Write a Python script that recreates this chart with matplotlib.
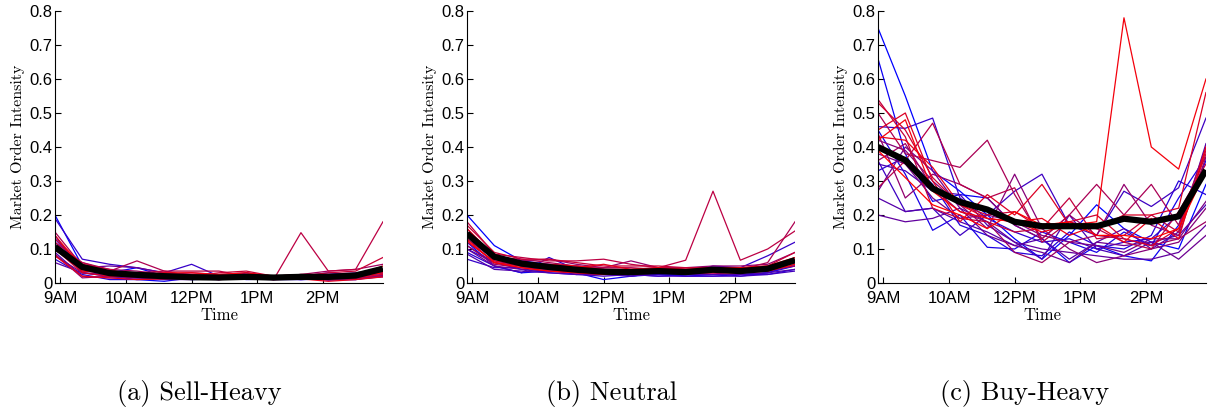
import matplotlib
matplotlib.use("Agg")
import matplotlib.pyplot as plt
import numpy as np

# time index of the 13 half-hour buckets
x = list(range(1, 14))
tick_pos = [1.2, 3.6, 6.0, 8.4, 10.8]
tick_labels = ["9AM", "10AM", "12PM", "1PM", "2PM"]

# individual stocks, ordered from blue to red
sell_heavy = [
    [0.20, 0.05, 0.03, 0.045, 0.02, 0.01, 0.012, 0.02, 0.015, 0.01, 0.012, 0.01, 0.025],
    [0.14, 0.03, 0.02, 0.01, 0.005, 0.015, 0.01, 0.03, 0.015, 0.012, 0.02, 0.015, 0.03],
    [0.13, 0.04, 0.025, 0.015, 0.018, 0.012, 0.02, 0.01, 0.012, 0.015, 0.01, 0.012, 0.02],
    [0.07, 0.025, 0.01, 0.01, 0.015, 0.02, 0.01, 0.02, 0.01, 0.01, 0.015, 0.02, 0.03],
    [0.19, 0.07, 0.055, 0.045, 0.03, 0.055, 0.02, 0.015, 0.01, 0.02, 0.03, 0.025, 0.035],
    [0.10, 0.035, 0.03, 0.02, 0.025, 0.02, 0.015, 0.02, 0.012, 0.02, 0.02, 0.015, 0.025],
    [0.09, 0.02, 0.015, 0.015, 0.01, 0.01, 0.015, 0.012, 0.01, 0.015, 0.008, 0.01, 0.02],
    [0.06, 0.03, 0.02, 0.018, 0.015, 0.012, 0.01, 0.015, 0.015, 0.01, 0.012, 0.012, 0.018],
    [0.11, 0.045, 0.05, 0.045, 0.03, 0.025, 0.02, 0.025, 0.018, 0.02, 0.025, 0.03, 0.04],
    [0.08, 0.03, 0.025, 0.02, 0.02, 0.015, 0.012, 0.018, 0.015, 0.015, 0.012, 0.015, 0.022],
    [0.12, 0.04, 0.03, 0.025, 0.03, 0.02, 0.02, 0.025, 0.02, 0.025, 0.02, 0.02, 0.03],
    [0.085, 0.015, 0.02, 0.015, 0.015, 0.012, 0.015, 0.02, 0.015, 0.012, 0.01, 0.012, 0.02],
    [0.095, 0.06, 0.04, 0.035, 0.025, 0.03, 0.025, 0.03, 0.02, 0.025, 0.035, 0.04, 0.055],
    [0.15, 0.05, 0.035, 0.065, 0.035, 0.02, 0.015, 0.02, 0.015, 0.02, 0.02, 0.025, 0.035],
    [0.12, 0.06, 0.035, 0.03, 0.035, 0.035, 0.035, 0.02, 0.01, 0.148, 0.035, 0.04, 0.18],
    [0.13, 0.055, 0.04, 0.02, 0.02, 0.02, 0.03, 0.035, 0.02, 0.02, 0.03, 0.035, 0.075],
    [0.10, 0.03, 0.02, 0.02, 0.02, 0.025, 0.02, 0.025, 0.015, 0.015, 0.012, 0.015, 0.025],
    [0.08, 0.02, 0.015, 0.01, 0.012, 0.015, 0.01, 0.015, 0.01, 0.012, 0.005, 0.01, 0.018],
    [0.14, 0.045, 0.025, 0.025, 0.03, 0.03, 0.025, 0.03, 0.02, 0.025, 0.025, 0.02, 0.05],
    [0.11, 0.035, 0.03, 0.02, 0.018, 0.02, 0.018, 0.022, 0.018, 0.018, 0.02, 0.018, 0.03],
]
sell_mean = [0.106, 0.047, 0.029, 0.024, 0.02, 0.017, 0.016, 0.018, 0.016, 0.018, 0.018, 0.022, 0.042]

neutral = [
    [0.20, 0.11, 0.065, 0.055, 0.05, 0.04, 0.02, 0.025, 0.02, 0.025, 0.025, 0.03, 0.055],
    [0.12, 0.05, 0.03, 0.035, 0.03, 0.01, 0.02, 0.03, 0.02, 0.02, 0.025, 0.025, 0.04],
    [0.10, 0.06, 0.04, 0.03, 0.025, 0.03, 0.025, 0.02, 0.025, 0.03, 0.02, 0.03, 0.05],
    [0.09, 0.05, 0.03, 0.075, 0.04, 0.035, 0.03, 0.035, 0.03, 0.035, 0.03, 0.035, 0.06],
    [0.07, 0.045, 0.045, 0.04, 0.035, 0.03, 0.03, 0.025, 0.03, 0.05, 0.045, 0.08, 0.12],
    [0.11, 0.06, 0.05, 0.04, 0.025, 0.02, 0.025, 0.02, 0.02, 0.02, 0.02, 0.025, 0.035],
    [0.085, 0.04, 0.035, 0.03, 0.025, 0.025, 0.02, 0.03, 0.025, 0.025, 0.025, 0.03, 0.04],
    [0.13, 0.07, 0.05, 0.045, 0.04, 0.035, 0.03, 0.04, 0.035, 0.04, 0.035, 0.04, 0.06],
    [0.10, 0.05, 0.04, 0.035, 0.03, 0.03, 0.035, 0.03, 0.03, 0.035, 0.04, 0.035, 0.05],
    [0.16, 0.075, 0.06, 0.05, 0.045, 0.04, 0.04, 0.045, 0.04, 0.045, 0.04, 0.045, 0.07],
    [0.12, 0.065, 0.05, 0.045, 0.04, 0.04, 0.035, 0.04, 0.035, 0.04, 0.04, 0.045, 0.065],
    [0.15, 0.08, 0.065, 0.07, 0.055, 0.045, 0.065, 0.045, 0.045, 0.05, 0.05, 0.055, 0.09],
    [0.11, 0.055, 0.045, 0.035, 0.03, 0.03, 0.03, 0.035, 0.03, 0.03, 0.03, 0.04, 0.05],
    [0.14, 0.075, 0.07, 0.06, 0.05, 0.045, 0.045, 0.04, 0.045, 0.045, 0.04, 0.06, 0.18],
    [0.18, 0.085, 0.075, 0.065, 0.065, 0.07, 0.055, 0.045, 0.067, 0.27, 0.067, 0.10, 0.153],
    [0.17, 0.09, 0.07, 0.07, 0.06, 0.05, 0.05, 0.05, 0.045, 0.045, 0.045, 0.05, 0.09],
    [0.13, 0.06, 0.05, 0.04, 0.035, 0.03, 0.035, 0.035, 0.035, 0.035, 0.035, 0.04, 0.07],
    [0.15, 0.065, 0.055, 0.05, 0.045, 0.055, 0.04, 0.04, 0.04, 0.04, 0.04, 0.045, 0.065],
    [0.16, 0.08, 0.06, 0.055, 0.05, 0.04, 0.04, 0.045, 0.04, 0.045, 0.045, 0.05, 0.075],
    [0.125, 0.06, 0.045, 0.035, 0.03, 0.025, 0.03, 0.03, 0.03, 0.03, 0.03, 0.035, 0.055],
]
neutral_mean = [0.145, 0.077, 0.057, 0.047, 0.039, 0.033, 0.032, 0.035, 0.032, 0.039, 0.035, 0.042, 0.067]

buy_heavy = [
    [0.75, 0.55, 0.33, 0.27, 0.20, 0.13, 0.07, 0.14, 0.23, 0.16, 0.12, 0.10, 0.29],
    [0.66, 0.38, 0.24, 0.26, 0.25, 0.17, 0.13, 0.06, 0.11, 0.08, 0.065, 0.17, 0.36],
    [0.45, 0.32, 0.155, 0.20, 0.105, 0.10, 0.15, 0.12, 0.09, 0.15, 0.11, 0.25, 0.37],
    [0.33, 0.37, 0.29, 0.17, 0.14, 0.09, 0.08, 0.15, 0.11, 0.10, 0.14, 0.30, 0.26],
    [0.46, 0.455, 0.485, 0.25, 0.19, 0.15, 0.12, 0.13, 0.10, 0.12, 0.13, 0.20, 0.33],
    [0.36, 0.21, 0.22, 0.14, 0.20, 0.27, 0.32, 0.17, 0.14, 0.27, 0.225, 0.28, 0.485],
    [0.35, 0.33, 0.27, 0.26, 0.17, 0.12, 0.07, 0.20, 0.10, 0.08, 0.12, 0.14, 0.23],
    [0.25, 0.21, 0.22, 0.18, 0.15, 0.11, 0.13, 0.07, 0.12, 0.16, 0.10, 0.15, 0.41],
    [0.20, 0.18, 0.19, 0.22, 0.18, 0.12, 0.10, 0.09, 0.08, 0.07, 0.07, 0.09, 0.17],
    [0.27, 0.40, 0.33, 0.22, 0.14, 0.11, 0.09, 0.06, 0.12, 0.11, 0.12, 0.07, 0.14],
    [0.38, 0.35, 0.25, 0.19, 0.20, 0.18, 0.14, 0.12, 0.11, 0.09, 0.13, 0.13, 0.24],
    [0.42, 0.39, 0.30, 0.23, 0.16, 0.32, 0.16, 0.10, 0.06, 0.08, 0.10, 0.12, 0.22],
    [0.44, 0.25, 0.32, 0.29, 0.25, 0.17, 0.13, 0.20, 0.14, 0.29, 0.17, 0.14, 0.37],
    [0.36, 0.41, 0.28, 0.21, 0.18, 0.09, 0.06, 0.12, 0.14, 0.13, 0.11, 0.13, 0.18],
    [0.50, 0.38, 0.36, 0.34, 0.42, 0.26, 0.13, 0.20, 0.29, 0.20, 0.29, 0.17, 0.40],
    [0.28, 0.36, 0.47, 0.29, 0.25, 0.28, 0.12, 0.18, 0.16, 0.12, 0.10, 0.21, 0.35],
    [0.54, 0.43, 0.22, 0.19, 0.18, 0.15, 0.16, 0.25, 0.13, 0.14, 0.20, 0.15, 0.39],
    [0.53, 0.45, 0.31, 0.23, 0.20, 0.21, 0.16, 0.18, 0.20, 0.13, 0.11, 0.16, 0.38],
    [0.45, 0.50, 0.30, 0.18, 0.26, 0.20, 0.29, 0.17, 0.16, 0.20, 0.20, 0.22, 0.56],
    [0.43, 0.42, 0.34, 0.23, 0.19, 0.18, 0.19, 0.14, 0.17, 0.12, 0.19, 0.13, 0.40],
    [0.42, 0.48, 0.27, 0.21, 0.19, 0.18, 0.15, 0.17, 0.18, 0.78, 0.40, 0.335, 0.60],
    [0.39, 0.31, 0.23, 0.20, 0.16, 0.21, 0.17, 0.18, 0.14, 0.14, 0.13, 0.16, 0.33],
]
buy_mean = [0.40, 0.361, 0.278, 0.238, 0.216, 0.18, 0.167, 0.167, 0.167, 0.189, 0.18, 0.196, 0.332]

panels = [sell_heavy, neutral, buy_heavy]
means = [sell_mean, neutral_mean, buy_mean]
captions = ["(a) Sell-Heavy", "(b) Neutral", "(c) Buy-Heavy"]

fig = plt.figure(figsize=(12.13, 4.13), dpi=100)
lefts = [0.0453, 0.385, 0.7238]
cap_x = [0.164, 0.504, 0.845]

for k in range(3):
    ax = fig.add_axes([lefts[k], 0.3148, 0.2704, 0.6586])
    lines = panels[k]
    n = len(lines)
    for i, vals in enumerate(lines):
        t = i / (n - 1)
        ax.plot(x, vals, color=(t, 0, 1 - t), lw=0.9)
    ax.plot(x, means[k], color="black", lw=4.5, solid_capstyle="butt")

    ax.set_xlim(1, 13)
    ax.set_ylim(0, 0.8)
    ax.set_xticks(tick_pos)
    ax.set_xticklabels(tick_labels)
    ax.set_yticks(np.arange(0, 0.81, 0.1))
    ax.set_yticklabels(["0"] + [f"{v:.1f}" for v in np.arange(0.1, 0.81, 0.1)])
    ax.spines["top"].set_visible(False)
    ax.spines["right"].set_visible(False)
    ax.tick_params(direction="in", length=4, labelsize=12)
    ax.tick_params(axis="x", pad=6)
    ax.tick_params(axis="y", pad=2)
    for lab in ax.get_xticklabels() + ax.get_yticklabels():
        lab.set_fontfamily("Liberation Sans")
    ax.set_xlabel("Time", fontfamily="cmr10", fontsize=12, labelpad=1)
    ax.set_ylabel("Market Order Intensity", fontfamily="cmr10", fontsize=11.5, labelpad=3)

    fig.text(cap_x[k], 0.048, captions[k], fontfamily="cmr10", fontsize=19, ha="center", va="center")

fig.savefig("out.png", dpi=100)
